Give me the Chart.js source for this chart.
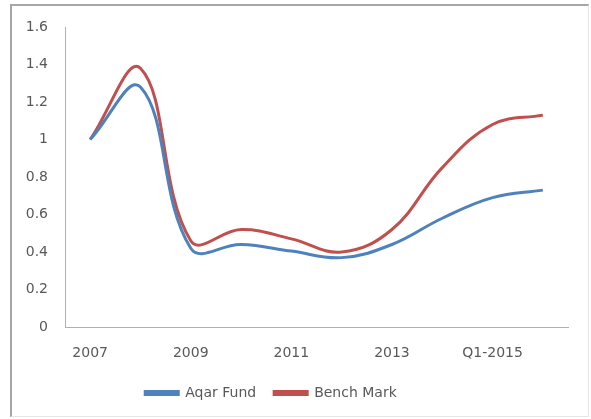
<!DOCTYPE html>
<html>
<head>
<meta charset="utf-8">
<script src="https://cdn.jsdelivr.net/npm/chart.js@4.4.0/dist/chart.umd.min.js"></script>
<style>
  html, body { margin: 0; padding: 0; background: #ffffff; }
  #wrap { position: relative; width: 591px; height: 419px; }
  #frame { position: absolute; left: 10px; top: 4px; width: 576px; height: 410px;
           border-top: 2px solid #a6a6a6; border-left: 2px solid #a6a6a6;
           border-right: 1px solid #e6e6e6; border-bottom: 1px solid #e6e6e6; }
  canvas { position: absolute; left: 0; top: 0; }
</style>
</head>
<body>
<div id="wrap">
  <div id="frame"></div>
  <canvas id="c" width="591" height="419"></canvas>
</div>
<script>
const categories = ['2007', '2008', '2009', '2010', '2011', '2012', '2013', '2014', 'Q1-2015', 'Q2-2015'];
const aqarFund  = [1.00, 1.28, 0.42, 0.44, 0.405, 0.37, 0.44, 0.58, 0.69, 0.73];
const benchMark = [1.00, 1.38, 0.46, 0.52, 0.47, 0.40, 0.52, 0.85, 1.08, 1.13];
const yTicks = [0, 0.2, 0.4, 0.6, 0.8, 1, 1.2, 1.4, 1.6];

const textColor = '#595959';
const fontFamily = '"DejaVu Sans", sans-serif';

const legendShift = {
  id: 'legendShift',
  afterLayout(chart) {
    if (chart.legend) { chart.legend.left -= 13; chart.legend.right -= 13; }
  }
};

new Chart(document.getElementById('c'), {
  type: 'line',
  data: {
    labels: categories,
    datasets: [
      { label: 'Aqar Fund', data: aqarFund, borderColor: '#4F81BD', backgroundColor: '#4F81BD',
        borderWidth: 3, pointRadius: 0, tension: 0.4, fill: false },
      { label: 'Bench Mark', data: benchMark, borderColor: '#C0504D', backgroundColor: '#C0504D',
        borderWidth: 3, pointRadius: 0, tension: 0.4, fill: false }
    ]
  },
  options: {
    responsive: false,
    animation: false,
    devicePixelRatio: 1,
    layout: { padding: { top: 27, right: 23, left: 0, bottom: 9 } },
    plugins: {
      tooltip: { enabled: false },
      legend: {
        position: 'bottom',
        labels: {
          color: textColor,
          font: { family: fontFamily, size: 14 },
          boxWidth: 33,
          boxHeight: 3,
          padding: 18
        }
      }
    },
    scales: {
      x: {
        type: 'category',
        offset: true,
        grid: { drawOnChartArea: false, drawTicks: false },
        border: { display: true, color: '#b0b0b0', width: 1 },
        ticks: {
          autoSkip: false, maxRotation: 0, minRotation: 0, padding: 18,
          color: textColor, font: { family: fontFamily, size: 14 },
          callback: function(v, i) { return i % 2 === 0 ? categories[i] : ''; }
        },
        afterFit(scale) { scale.height = 41; }
      },
      y: {
        min: 0, max: 1.6,
        afterBuildTicks(scale) { scale.ticks = yTicks.map(v => ({ value: v })); },
        grid: { drawOnChartArea: false, drawTicks: false },
        border: { display: true, color: '#b0b0b0', width: 1 },
        ticks: {
          padding: 17, color: textColor, font: { family: fontFamily, size: 14 },
          callback: function(v) { return String(Math.round(v * 10) / 10); }
        },
        afterFit(scale) { scale.width = 65; }
      }
    }
  },
  plugins: [legendShift]
});
</script>
</body>
</html>
